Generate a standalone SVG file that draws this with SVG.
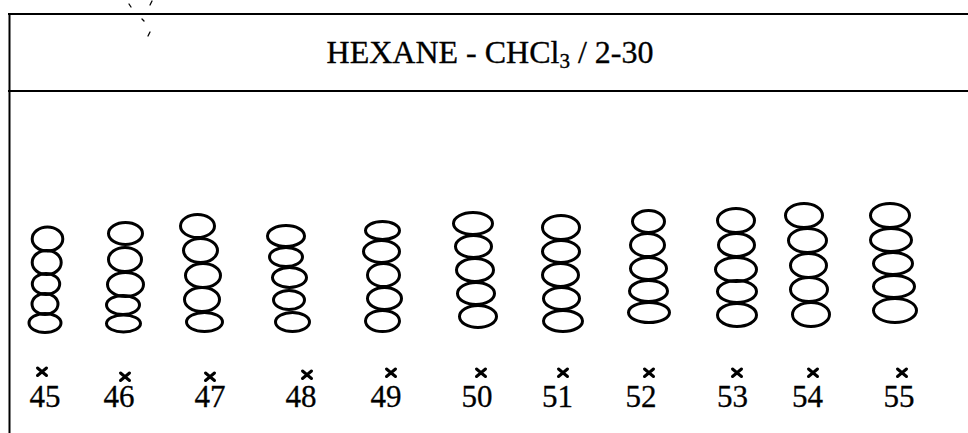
<svg xmlns="http://www.w3.org/2000/svg" xmlns:xlink="http://www.w3.org/1999/xlink" width="968" height="433" viewBox="0 0 968 433">
  <style>
    .rule { stroke: #000; stroke-width: 2; fill: none; }
    .spot { fill: none; stroke: #000; stroke-width: 3; }
    .title { font-family: "Liberation Serif", "Times New Roman", serif; font-size: 32px; fill: #000; stroke: #000; stroke-width: 0.35; }
    .num { font-family: "Liberation Serif", "Times New Roman", serif; font-size: 31px; fill: #000; stroke: #000; stroke-width: 0.3; text-anchor: middle; }
    .speck { stroke: #000; stroke-width: 1.3; stroke-linecap: round; }
  </style>
  <defs>
    <path id="mark" d="M-4.5,-4 L4.5,3.5 M4.5,-4 L-4.5,3.5" stroke="#000" stroke-width="3" stroke-linecap="round" fill="none"/>
  </defs>
  <rect width="968" height="433" fill="#fff"/>

  <!-- frame rules -->
  <g id="frame">
    <line class="rule" x1="8" y1="14" x2="968" y2="14"/>
    <line class="rule" x1="8" y1="91" x2="968" y2="91"/>
    <line class="rule" x1="9.5" y1="13" x2="9.5" y2="433" stroke-width="1.8"/>
  </g>

  <!-- small specks near the top edge -->
  <g id="specks">
    <line class="speck" x1="129" y1="4" x2="131" y2="7"/>
    <line class="speck" x1="152" y1="1" x2="150" y2="5"/>
    <line class="speck" x1="142" y1="19" x2="144" y2="21" stroke-width="2"/>
    <line class="speck" x1="150" y1="32" x2="148" y2="36"/>
  </g>

  <!-- heading -->
  <g id="heading">
    <text class="title" x="490" y="63" text-anchor="middle">HEXANE - CHCl<tspan font-size="21" dy="5">3</tspan><tspan dy="-5" dx="8">/ 2-30</tspan></text>
  </g>

  <!-- spot columns -->
  <g id="col-45">
    <ellipse class="spot" cx="47.5" cy="239" rx="15.3" ry="12"/>
    <ellipse class="spot" cx="46.7" cy="262.5" rx="14.5" ry="12"/>
    <ellipse class="spot" cx="46" cy="284" rx="13.7" ry="10.5"/>
    <ellipse class="spot" cx="45" cy="304" rx="13" ry="10.5"/>
    <ellipse class="spot" cx="45" cy="323" rx="16" ry="9.5"/>
    <use xlink:href="#mark" x="42" y="372"/>
    <text class="num" x="45" y="407">45</text>
  </g>
  <g id="col-46">
    <ellipse class="spot" cx="125.5" cy="233.5" rx="17" ry="11"/>
    <ellipse class="spot" cx="125" cy="259.5" rx="16.5" ry="12"/>
    <ellipse class="spot" cx="125.5" cy="284.5" rx="18" ry="12"/>
    <ellipse class="spot" cx="123" cy="305" rx="16.5" ry="9.5"/>
    <ellipse class="spot" cx="123.5" cy="323.5" rx="17" ry="8.5"/>
    <use xlink:href="#mark" x="125" y="377"/>
    <text class="num" x="119" y="407">46</text>
  </g>
  <g id="col-47">
    <ellipse class="spot" cx="197.5" cy="226" rx="17" ry="11.5"/>
    <ellipse class="spot" cx="200.5" cy="250.5" rx="17" ry="12"/>
    <ellipse class="spot" cx="203" cy="275.5" rx="17.5" ry="12"/>
    <ellipse class="spot" cx="202" cy="299.5" rx="17.5" ry="12"/>
    <ellipse class="spot" cx="204.5" cy="322" rx="18" ry="9.5"/>
    <use xlink:href="#mark" x="210" y="377"/>
    <text class="num" x="210" y="407">47</text>
  </g>
  <g id="col-48">
    <ellipse class="spot" cx="286" cy="236" rx="18.5" ry="10.5"/>
    <ellipse class="spot" cx="286" cy="257" rx="16.5" ry="9.5"/>
    <ellipse class="spot" cx="289.5" cy="277.5" rx="17" ry="10"/>
    <ellipse class="spot" cx="289" cy="300" rx="15.5" ry="9.5"/>
    <ellipse class="spot" cx="292.5" cy="322" rx="17" ry="9.5"/>
    <use xlink:href="#mark" x="307" y="375"/>
    <text class="num" x="301" y="407">48</text>
  </g>
  <g id="col-49">
    <ellipse class="spot" cx="382.5" cy="230.5" rx="17" ry="9"/>
    <ellipse class="spot" cx="381.5" cy="251.5" rx="18" ry="11"/>
    <ellipse class="spot" cx="383.5" cy="275" rx="16" ry="11.5"/>
    <ellipse class="spot" cx="384.5" cy="298.5" rx="17" ry="11"/>
    <ellipse class="spot" cx="382.5" cy="321" rx="17" ry="10.5"/>
    <use xlink:href="#mark" x="391" y="373"/>
    <text class="num" x="386" y="407">49</text>
  </g>
  <g id="col-50">
    <ellipse class="spot" cx="473" cy="223.5" rx="19.5" ry="11"/>
    <ellipse class="spot" cx="473.5" cy="246.5" rx="18" ry="11"/>
    <ellipse class="spot" cx="475" cy="270" rx="18.5" ry="11.5"/>
    <ellipse class="spot" cx="476" cy="293.5" rx="18.5" ry="11"/>
    <ellipse class="spot" cx="478" cy="316.5" rx="18.5" ry="11"/>
    <use xlink:href="#mark" x="481" y="373"/>
    <text class="num" x="477" y="407">50</text>
  </g>
  <g id="col-51">
    <ellipse class="spot" cx="561" cy="227.5" rx="18.5" ry="12"/>
    <ellipse class="spot" cx="561" cy="251.5" rx="18.5" ry="11"/>
    <ellipse class="spot" cx="560.5" cy="275" rx="18" ry="11.5"/>
    <ellipse class="spot" cx="561.5" cy="298.5" rx="18" ry="11"/>
    <ellipse class="spot" cx="563" cy="321" rx="19.5" ry="10.5"/>
    <use xlink:href="#mark" x="563" y="373"/>
    <text class="num" x="557.5" y="407">51</text>
  </g>
  <g id="col-52">
    <ellipse class="spot" cx="648.5" cy="221.5" rx="16" ry="11"/>
    <ellipse class="spot" cx="647.5" cy="245" rx="17" ry="11.5"/>
    <ellipse class="spot" cx="648.5" cy="268.5" rx="18" ry="11"/>
    <ellipse class="spot" cx="648.5" cy="291" rx="19" ry="10.5"/>
    <ellipse class="spot" cx="649" cy="312.5" rx="20.5" ry="10"/>
    <use xlink:href="#mark" x="649" y="373"/>
    <text class="num" x="641" y="407">52</text>
  </g>
  <g id="col-53">
    <ellipse class="spot" cx="736" cy="220.5" rx="18.5" ry="12"/>
    <ellipse class="spot" cx="736.5" cy="245" rx="18" ry="11.5"/>
    <ellipse class="spot" cx="736" cy="269.5" rx="20.5" ry="12"/>
    <ellipse class="spot" cx="737" cy="291.5" rx="19.5" ry="11"/>
    <ellipse class="spot" cx="737" cy="315" rx="19.5" ry="11.5"/>
    <use xlink:href="#mark" x="737" y="373"/>
    <text class="num" x="732.5" y="407">53</text>
  </g>
  <g id="col-54">
    <ellipse class="spot" cx="804" cy="215.5" rx="18.5" ry="12"/>
    <ellipse class="spot" cx="807.5" cy="240.5" rx="19" ry="12"/>
    <ellipse class="spot" cx="808.5" cy="265.5" rx="18" ry="12"/>
    <ellipse class="spot" cx="809" cy="289.5" rx="18.5" ry="12"/>
    <ellipse class="spot" cx="811" cy="314.5" rx="18.5" ry="12"/>
    <use xlink:href="#mark" x="813" y="373"/>
    <text class="num" x="807.5" y="407">54</text>
  </g>
  <g id="col-55">
    <ellipse class="spot" cx="890" cy="215.5" rx="19.5" ry="12"/>
    <ellipse class="spot" cx="891" cy="240" rx="20.5" ry="11.5"/>
    <ellipse class="spot" cx="893" cy="263.5" rx="19.5" ry="11"/>
    <ellipse class="spot" cx="894" cy="286.5" rx="20.5" ry="11"/>
    <ellipse class="spot" cx="895" cy="310.5" rx="21.5" ry="12"/>
    <use xlink:href="#mark" x="902" y="373"/>
    <text class="num" x="899" y="407">55</text>
  </g>

  <!-- no connectors in this figure -->
  <g id="connectors"/>
</svg>
